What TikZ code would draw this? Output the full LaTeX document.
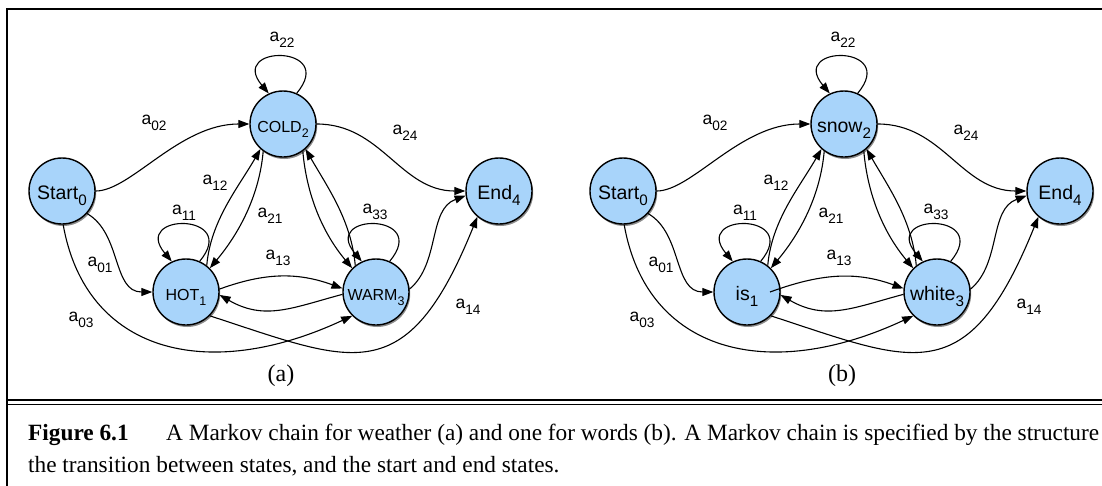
\documentclass[tikz,border=0pt]{standalone}
\usepackage{fontspec}
\setmainfont{Liberation Serif}
\newfontfamily\hv{Liberation Sans}
\usetikzlibrary{arrows.meta,shadows}
\definecolor{nodefill}{RGB}{168,212,250}
\newcommand\mysub[1]{\raisebox{-0.32em}{\scalebox{0.78}{#1}}}
\tikzset{
  mstate/.style={circle, draw=black, line width=1.4pt, fill=nodefill,
    minimum size=66pt, inner sep=0pt, text height=21pt, text depth=5pt,
    drop shadow={shadow xshift=1.2pt, shadow yshift=-2pt, opacity=0.45, fill=black},
    font=\hv\fontsize{19.5}{20}\selectfont},
  capstate/.style={mstate, font=\hv\fontsize{16}{17}\selectfont},
  arr/.style={line width=1.1pt, -{Triangle[length=11pt,width=8pt]}},
  elab/.style={font=\hv\fontsize{17.5}{18}\selectfont, inner sep=0pt},
  sublab/.style={font=\fontsize{24}{26}\selectfont, inner sep=0pt},
  captext/.style={anchor=base west, inner sep=0pt, font=\fontsize{23.3}{28}\selectfont},
}
% #1 node1, #2 node2, #3 node3, #4 style of those nodes, #5 sub-figure label, #6 start of upper a13 arc
\newcommand\markovpanel[6]{%
  \node[mstate] (S) at (62,-191) {Start\mysub{0}};
  \node[#4] (H) at (186,-292) {#1\mysub{1}};
  \node[#4] (C) at (283,-124) {#2\mysub{2}};
  \node[#4] (W) at (376,-292) {#3\mysub{3}};
  \node[mstate] (E) at (499,-191) {End\mysub{4}};
  % connectors
  \draw[arr] (S.east) to[out=0,in=180,out distance=35pt,in distance=70pt] (C.west);
  \draw[arr] (C.east) to[out=0,in=180,distance=65pt] (E.west);
  \draw[arr] (S.-42) to[out=-30,in=180,distance=40pt] (H.west);
  \draw[arr] (S.-88) to[out=-80,in=205,out distance=130pt,in distance=160pt] (W.225);
  \draw[arr] (H.-45) to[out=-18,in=248,out distance=150pt,in distance=190pt] (E.230);
  \draw[arr] (H.52) to[out=85,in=240,distance=45pt] (C.228);
  \draw[arr] (C.234) to[out=-95,in=50,distance=45pt] (H.45);
  \draw[arr] (C.-54) to[out=-85,in=130,distance=45pt] (W.135);
  \draw[arr] (W.128) to[out=95,in=-60,distance=45pt] (C.-48);
  \draw[arr] (W.5) to[out=40,in=200,distance=40pt] (E.188);
  \draw[arr] #6 to[out=20,in=160] (W.174);
  \draw[arr] (W.184) to[out=195,in=-30,distance=52pt] (H.-5);
  \draw[arr] (C.66) to[out=50,in=130,distance=64pt] (C.115);
  \draw[arr] (H.66) to[out=50,in=130,distance=64pt] (H.115);
  \draw[arr] (W.66) to[out=50,in=130,distance=64pt] (W.115);
  % labels
  \node[elab] (l22) at (282,-40) {a\mysub{22}};
  \node[elab] (l02) at (154,-123) {a\mysub{02}};
  \node[elab] (l24) at (405,-133) {a\mysub{24}};
  \node[elab] (l12) at (215,-183) {a\mysub{12}};
  \node[elab] (l11) at (184,-213) {a\mysub{11}};
  \node[elab] (l21) at (270,-216) {a\mysub{21}};
  \node[elab] (l33) at (375,-212) {a\mysub{33}};
  \node[elab] (l13) at (278,-258) {a\mysub{13}};
  \node[elab] (l01) at (100,-265) {a\mysub{01}};
  \node[elab] (l03) at (81,-320) {a\mysub{03}};
  \node[elab] (l14) at (468,-307) {a\mysub{14}};
  \node[sublab] (sub) at (281,-376) {#5};
}
\begin{document}
\begin{tikzpicture}[x=1pt,y=1pt]
  \clip (0,0) rectangle (1102,-485);
  \fill[white] (0,0) rectangle (1102,-485);
  % frame and rules
  \draw[line width=2pt] (1110,-9) -- (7.3,-9) -- (7.3,-490);
  \draw[line width=2pt] (7.3,-400) -- (1110,-400);
  \draw[line width=1pt] (7.3,-404.5) -- (1110,-404.5);
  % panel (a)
  \begin{scope}[name prefix=a-]
    \markovpanel{HOT}{COLD}{WARM}{capstate}{(a)}{(H.5)}
  \end{scope}
  % panel (b)
  \begin{scope}[xshift=561pt, name prefix=b-]
    \markovpanel{is}{snow}{white}{mstate}{(b)}{([xshift=23pt]H.center)}
  \end{scope}
  % caption
  \node[captext, font=\fontsize{23.3}{28}\selectfont\bfseries] (fig) at (28,-440) {Figure 6.1};
  \node[captext] (cap1) at (166,-440) {A Markov chain for weather (a) and one for words (b). A Markov chain is specified by the structure};
  \node[captext] (cap2) at (28,-472) {the transition between states, and the start and end states.};
\end{tikzpicture}
\end{document}
